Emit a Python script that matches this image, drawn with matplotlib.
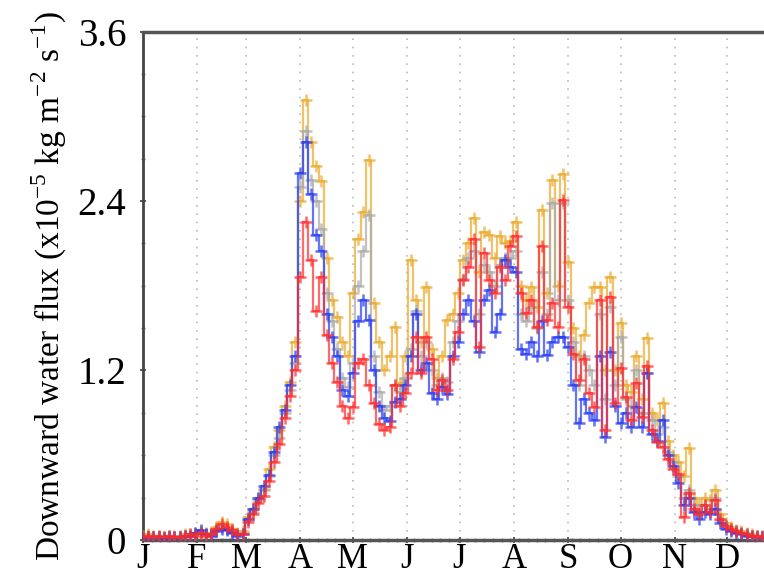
import numpy as np
import matplotlib.pyplot as plt
from matplotlib.ticker import MultipleLocator

plt.rcParams['font.family'] = ['Liberation Serif', 'DejaVu Serif']
plt.rcParams['mathtext.fontset'] = 'custom'
plt.rcParams['mathtext.rm'] = 'Liberation Serif'

# day of year, every 3 days
days = np.arange(0, 355, 3)

month_starts = [0, 31, 59, 90, 120, 151, 181, 212, 243, 273, 304, 334]
month_labels = ['J', 'F', 'M', 'A', 'M', 'J', 'J', 'A', 'S', 'O', 'N', 'D']

flux_orange = [0.03, 0.04, 0.03, 0.03, 0.02, 0.03, 0.03, 0.03, 0.04, 0.04,
               0.05, 0.06, 0.05, 0.05, 0.09, 0.13, 0.11, 0.08, 0.05, 0.06,
               0.16, 0.22, 0.30, 0.36, 0.50, 0.66, 0.78, 0.95, 1.12, 1.40,
               2.40, 3.12, 2.82, 2.65, 2.54, 2.00, 1.70, 1.58, 1.40, 1.30,
               1.75, 2.13, 2.32, 2.69, 1.68, 1.40, 1.20, 1.30, 1.51, 1.11,
               1.30, 1.98, 1.70, 1.40, 1.79, 1.35, 1.15, 1.30, 1.56, 1.60,
               1.75, 1.98, 2.10, 2.28, 1.90, 2.18, 2.16, 2.00, 2.15, 2.10,
               2.12, 2.25, 1.80, 1.70, 1.79, 1.65, 2.34, 1.75, 2.55, 1.80,
               2.59, 1.97, 1.50, 1.30, 1.45, 1.68, 1.79, 1.79, 1.20, 1.86,
               1.20, 1.54, 1.10, 1.05, 1.30, 1.00, 1.43, 0.90, 0.85, 0.97,
               0.70, 0.60, 0.55, 0.45, 0.65, 0.30, 0.25, 0.30, 0.28, 0.35,
               0.18, 0.12, 0.09, 0.07, 0.06, 0.05, 0.04, 0.03, 0.03]

flux_gray = [0.02, 0.02, 0.03, 0.02, 0.02, 0.03, 0.02, 0.03, 0.03, 0.03,
             0.04, 0.05, 0.04, 0.04, 0.07, 0.09, 0.08, 0.06, 0.04, 0.05,
             0.14, 0.20, 0.28, 0.35, 0.45, 0.60, 0.72, 0.90, 1.06, 1.25,
             2.50, 2.90, 2.55, 2.40, 2.20, 1.75, 1.55, 1.35, 1.15, 1.08,
             1.25, 1.80, 2.05, 2.30, 1.30, 1.05, 0.92, 0.95, 1.10, 1.05,
             1.15, 1.35, 1.62, 1.30, 1.40, 1.20, 1.10, 1.15, 1.12, 1.40,
             1.55, 1.85, 2.00, 2.05, 1.60, 1.95, 1.90, 1.80, 1.95, 2.00,
             2.00, 2.05, 1.60, 1.55, 1.65, 1.50, 1.90, 1.60, 2.39, 1.70,
             2.39, 1.70, 1.40, 1.10, 1.30, 1.20, 1.10, 1.60, 1.00, 1.65,
             1.10, 1.44, 1.00, 0.95, 1.20, 0.90, 1.18, 0.85, 0.75, 0.80,
             0.62, 0.55, 0.45, 0.30, 0.35, 0.25, 0.20, 0.25, 0.22, 0.30,
             0.14, 0.10, 0.07, 0.06, 0.05, 0.04, 0.03, 0.03, 0.03]

flux_blue = [0.01, 0.02, 0.02, 0.02, 0.01, 0.02, 0.02, 0.02, 0.03, 0.03,
             0.05, 0.07, 0.04, 0.03, 0.06, 0.08, 0.07, 0.05, 0.03, 0.04,
             0.15, 0.22, 0.30, 0.38, 0.46, 0.62, 0.80, 0.92, 1.10, 1.30,
             2.60, 2.82, 2.45, 2.16, 2.05, 1.60, 1.44, 1.30, 1.06, 1.02,
             1.18, 1.55, 1.70, 1.56, 1.20, 0.95, 0.86, 0.84, 0.98, 1.00,
             1.10, 1.30, 1.60, 1.20, 1.25, 1.04, 1.00, 1.08, 1.03, 1.30,
             1.40, 1.60, 1.70, 1.55, 1.33, 1.70, 1.77, 1.47, 1.60, 1.98,
             1.93, 1.90, 1.35, 1.32, 1.40, 1.30, 1.55, 1.31, 1.40, 1.44,
             1.44, 1.37, 1.10, 0.83, 1.00, 0.90, 0.85, 1.30, 0.73, 1.33,
             0.95, 0.83, 0.90, 0.80, 0.94, 0.80, 1.18, 0.75, 0.70, 0.85,
             0.60, 0.52, 0.40, 0.25, 0.30, 0.20, 0.15, 0.20, 0.18, 0.22,
             0.12, 0.08, 0.06, 0.05, 0.04, 0.03, 0.03, 0.02, 0.02]

flux_red = [0.02, 0.03, 0.02, 0.03, 0.02, 0.03, 0.02, 0.02, 0.03, 0.04,
            0.03, 0.05, 0.03, 0.04, 0.08, 0.11, 0.09, 0.07, 0.04, 0.04,
            0.13, 0.18, 0.26, 0.31, 0.42, 0.55, 0.68, 0.86, 1.02, 1.20,
            1.86, 2.25, 1.98, 1.62, 1.86, 1.45, 1.25, 1.12, 0.95, 0.86,
            0.94, 1.25, 1.28, 1.10, 0.97, 0.82, 0.78, 0.80, 1.10, 0.95,
            1.04, 1.18, 1.44, 1.18, 1.44, 1.28, 1.06, 1.13, 1.06, 1.28,
            1.47, 1.84, 1.93, 2.13, 1.37, 2.03, 1.84, 1.75, 1.93, 1.84,
            2.08, 2.15, 1.75, 1.61, 1.70, 1.51, 2.08, 1.56, 1.68, 1.51,
            2.41, 1.65, 1.32, 1.13, 1.28, 1.04, 0.94, 1.70, 0.78, 1.72,
            0.97, 1.22, 1.01, 0.85, 1.11, 0.87, 1.23, 0.78, 0.69, 0.66,
            0.57, 0.50, 0.47, 0.16, 0.33, 0.22, 0.18, 0.25, 0.20, 0.28,
            0.15, 0.10, 0.08, 0.06, 0.05, 0.04, 0.03, 0.03, 0.02]

series = [(flux_orange, '#EBA92A'), (flux_gray, '#A8A8A8'),
          (flux_blue, '#2438F2'), (flux_red, '#FF2A2A')]

fig = plt.figure(figsize=(7.64, 5.78), dpi=100)
ax = fig.add_axes([0.187, 0.066, 0.813, 0.879])

for vals, col in series:
    ax.plot(days, vals, color=col, drawstyle='steps-mid', lw=1.6, alpha=0.7,
            marker='+', ms=9, mew=1.8, zorder=3)

ax.set_xlim(0, 355)
ax.set_ylim(0, 3.6)
ax.set_xticks(month_starts)
ax.set_xticklabels(month_labels)
ax.set_yticks([0, 1.2, 2.4, 3.6])
ax.set_yticklabels(['0', '1.2', '2.4', '3.6'])
ax.yaxis.set_minor_locator(MultipleLocator(0.3))
ax.xaxis.set_minor_locator(MultipleLocator(5))
ax.tick_params(axis='both', direction='inout', length=4, width=1.2, color='#404040')
ax.tick_params(axis='y', labelsize=28, pad=10)
ax.tick_params(axis='x', labelsize=25, pad=0)
ax.tick_params(which='minor', direction='inout', length=3, width=1, color='#808080')
ax.grid(axis='x', color='#BBBBBB', linestyle=(0, (1, 4)), lw=1.2)

ax.spines['right'].set_visible(False)
ax.spines['top'].set_color('#555555')
ax.spines['top'].set_linewidth(2.5)
ax.spines['bottom'].set_color('#555555')
ax.spines['bottom'].set_linewidth(2.5)
ax.spines['left'].set_color('#444444')
ax.spines['left'].set_linewidth(2)

ax.set_ylabel(r'Downward water flux (x10$^{\mathregular{-5}}$ kg m$^{\mathregular{-2}}$ s$^{\mathregular{-1}}$)',
              fontsize=24, labelpad=6)

fig.savefig('out.png', dpi=100)
